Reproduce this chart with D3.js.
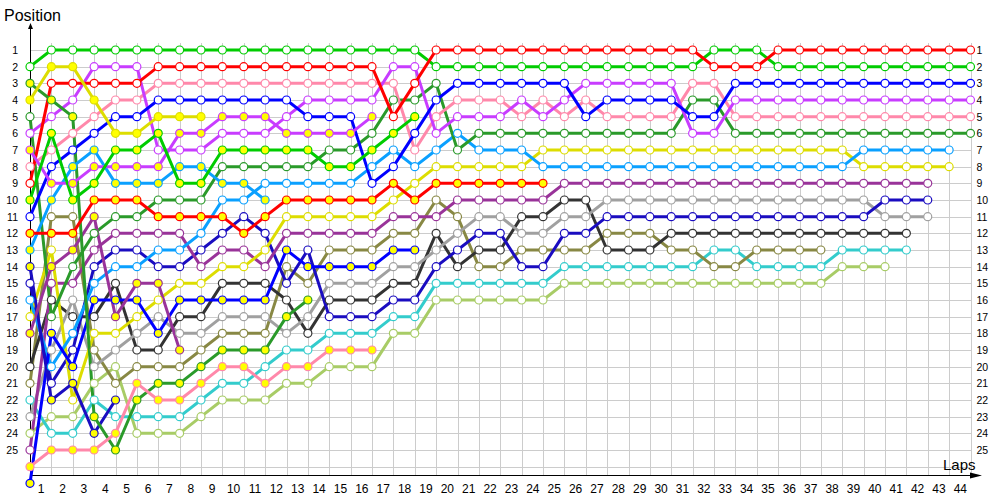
<!DOCTYPE html>
<html><head><meta charset="utf-8">
<script src="https://cdn.jsdelivr.net/npm/d3@7"></script>
<style>body{margin:0;background:#fff}svg{display:block}</style>
</head><body>
<svg id="chart" width="1000" height="500"></svg>
<script>
// ---------- data (index = lap, value = position) ----------
const lapLabels = [1,2,3,4,5,6,7,8,9,10,11,12,13,14,15,16,17,18,19,20,21,22,23,24,25,26,27,28,29,30,31,32,33,34,35,36,37,38,39,40,41,42,43,44];
const positionLabels = [1,2,3,4,5,6,7,8,9,10,11,12,13,14,15,16,17,18,19,20,21,22,23,24,25];
const gridRows = [1,2,3,4,5,6,7,8,9,10,11,12,13,14,15,16,17,18,19,20,21,22,23,24,25,26];

const greenA   = [2,1,1,1,1,1,1,1,1,1,1,1,1,1,1,1,1,1,1,2,2,2,2,2,2,2,2,2,2,2,2,2,1,1,1,2,2,2,2,2,2,2,2,2,2];
const redA     = [9,3,3,3,3,3,2,2,2,2,2,2,2,2,2,2,2,5,3,1,1,1,1,1,1,1,1,1,1,1,1,1,2,2,2,1,1,1,1,1,1,1,1,1,1];
const blueA    = [11,8,7,6,5,5,4,4,4,4,4,4,4,5,5,5,9,8,6,4,3,3,3,3,3,3,5,4,4,4,4,5,5,3,3,3,3,3,3,3,3,3,3,3,3];
const violetA  = [6,5,4,2,2,2,7,7,7,6,6,6,5,4,4,4,4,2,2,6,5,5,5,4,5,4,3,3,3,3,3,6,6,4,4,4,4,4,4,4,4,4,4,4,4];
const pinkA    = [8,7,6,5,4,4,3,3,3,3,3,3,3,3,3,3,3,3,7,5,4,4,4,5,4,5,4,5,5,5,5,3,3,5,5,5,5,5,5,5,5,5,5,5,5];
const forestA  = [5,17,14,12,11,11,10,10,10,8,8,8,8,8,7,7,6,4,4,3,7,6,6,6,6,6,6,6,6,6,6,4,4,6,6,6,6,6,6,6,6,6,6,6,6];
const skyA     = [16,20,18,15,14,14,13,13,12,10,10,9,9,9,9,9,8,7,8,7,6,7,7,7,8,8,8,8,8,8,8,8,8,8,8,8,8,8,8,7,7,7,7,7];
const yellowA  = [17,13,22,18,18,17,16,15,15,14,14,13,11,11,11,11,11,10,9,8,8,8,8,8,7,7,7,7,7,7,7,7,7,7,7,7,7,7,7,8,8,8,8,8];
const purpleA  = [25,15,15,13,12,12,12,12,14,13,13,14,12,12,12,12,12,11,11,11,10,10,10,10,10,9,9,9,9,9,9,9,9,9,9,9,9,9,9,9,9,9,9];
const navyA    = [15,21,19,14,13,13,14,14,13,12,11,12,15,13,17,17,17,16,16,14,13,12,12,14,14,12,12,11,11,11,11,11,11,11,11,11,11,11,11,11,10,10,10];
const grayA    = [23,19,16,20,19,18,17,18,18,17,17,17,18,17,15,15,15,14,14,13,12,11,11,12,12,11,11,10,10,10,10,10,10,10,10,10,10,10,10,10,11,11,11];
const blackA   = [20,16,17,17,15,19,19,17,17,15,15,15,16,18,16,16,16,15,15,12,14,13,13,11,11,10,10,13,13,13,12,12,12,12,12,12,12,12,12,12,12,12];
const tealA    = [22,24,24,22,23,23,23,23,22,21,21,20,19,19,18,18,18,17,17,15,15,15,15,15,15,14,14,14,14,14,14,14,13,13,14,14,14,14,13,13,13,13];
const limeA    = [24,23,23,21,20,24,24,24,23,22,22,22,21,21,20,20,20,18,18,16,16,16,16,16,16,15,15,15,15,15,15,15,15,15,15,15,15,15,14,14,14];
const oliveA   = [21,11,11,19,21,20,20,20,19,18,18,18,14,15,13,13,13,12,12,10,11,14,14,13,13,13,13,12,12,12,13,13,14,14,13,13,13,13];
// retired cars
const redB     = [12,12,12,10,10,10,11,11,11,11,12,11,10,10,10,10,10,9,10,9,9,9,9,9,9];
const greenB   = [10,6,10,9,7,7,6,9,9,7,7,7,7,7,8,8,7,6,5];
const violetB  = [7,9,9,8,8,8,8,6,6,5,5,5,6,6,6,6,5];
const yellowB  = [4,2,2,4,6,6,5,5,5];
const skyB     = [13,10,8,7,9,9,9,8,8,9,9,10];
const pinkB    = [26,25,25,25,24,21,22,22,21,20,20,21,20,20,19,19,19];
const forestB  = [3,4,5,23,25,22,21,21,20,19,19,19,17,16];
const purpleB  = [18,14,13,11,17,15,15,19];
const navyB    = [14,22,21,24,22];
const blueB    = [27,18,20,16,16,16,18,16,16,16,16,16,13,14,14,14,14,13,13];

// ---------- styles ----------
const WHITE = '#ffffff', YEL = '#ffff00';
const series = [
  {data: limeA,   color:'#a8cc66', fill:WHITE},
  {data: tealA,   color:'#33cccc', fill:WHITE},
  {data: oliveA,  color:'#888844', fill:WHITE},
  {data: blackA,  color:'#333333', fill:WHITE},
  {data: grayA,   color:'#a0a0a0', fill:WHITE},
  {data: navyA,   color:'#1a0cc0', fill:WHITE},
  {data: purpleA, color:'#993399', fill:WHITE},
  {data: yellowA, color:'#dddd00', fill:WHITE},
  {data: skyA,    color:'#0aa0ff', fill:WHITE},
  {data: forestA, color:'#2a9a2a', fill:WHITE},
  {data: pinkA,   color:'#ff88aa', fill:WHITE},
  {data: violetA, color:'#c83cff', fill:WHITE},
  {data: blueA,   color:'#0000ff', fill:WHITE},
  {data: greenA,  color:'#00cc00', fill:WHITE},
  {data: redA,    color:'#ff0000', fill:WHITE},
  {data: blueB,   color:'#0000ff', fill:YEL},
  {data: navyB,   color:'#1a0cc0', fill:YEL},
  {data: purpleB, color:'#993399', fill:YEL},
  {data: forestB, color:'#2a9a2a', fill:YEL},
  {data: pinkB,   color:'#ff88aa', fill:YEL},
  {data: skyB,    color:'#0aa0ff', fill:YEL},
  {data: yellowB, color:'#dddd00', fill:YEL},
  {data: violetB, color:'#c83cff', fill:YEL},
  {data: greenB,  color:'#00cc00', fill:YEL},
  {data: redB,    color:'#ff0000', fill:YEL}
];

const svg = d3.select('#chart');
const X0 = 30, X1 = 970.5, AXY = 475;
const x = d3.scaleLinear().domain([0, 44]).range([X0, X1]);
const y = d3.scaleLinear().domain([1, 25]).range([50, 450]);
const xl = d3.scaleLinear().domain([0.5, 44.5]).range([X0, X1]);

// grid
const grid = svg.append('g').attr('stroke', '#cccccc').attr('stroke-width', 1).attr('shape-rendering','crispEdges');
grid.selectAll('line.h').data(gridRows).join('line')
  .attr('x1', X0).attr('x2', X1).attr('y1', d => Math.round(y(d))+0.5).attr('y2', d => Math.round(y(d))+0.5);
grid.selectAll('line.v').data(lapLabels).join('line')
  .attr('y1', 43).attr('y2', AXY).attr('x1', d => Math.round(x(d))+0.5).attr('x2', d => Math.round(x(d))+0.5);

// axes
const font = '"Liberation Sans", Arial, sans-serif';
const left = svg.append('g').attr('transform', `translate(${X0},0)`)
  .call(d3.axisLeft(y).tickValues(positionLabels).tickSize(0).tickPadding(12));
const right = svg.append('g').attr('transform', `translate(${X1},0)`)
  .call(d3.axisRight(y).tickValues(positionLabels).tickSize(0).tickPadding(6));
const bottom = svg.append('g').attr('transform', `translate(0,${AXY})`)
  .call(d3.axisBottom(xl).tickValues(lapLabels).tickSize(0).tickPadding(9));
[left, right, bottom].forEach(g => {
  g.select('.domain').remove();
  g.selectAll('text').attr('font-family', font).attr('font-size', 11).attr('fill', '#000');
});
left.selectAll('text').attr('font-size', 10.5);
right.selectAll('text').attr('font-size', 10.5);
bottom.selectAll('text').attr('font-size', 12);

// axis lines with arrows
svg.append('line').attr('x1', X0+0.5).attr('x2', X0+0.5).attr('y1', AXY).attr('y2', 26).attr('stroke', '#000').attr('stroke-width', 1);
svg.append('path').attr('d', `M${X0+0.5},23 L${X0-2},29 L${X0+3},29 Z`).attr('fill', '#000');
svg.append('line').attr('x1', X0).attr('x2', 978).attr('y1', AXY+0.5).attr('y2', AXY+0.5).attr('stroke', '#000').attr('stroke-width', 1);
svg.append('path').attr('d', `M982,${AXY+0.5} L970,${AXY-2.5} L970,${AXY+3.5} Z`).attr('fill', '#000');

svg.append('text').attr('x', 4).attr('y', 21).text('Position')
  .attr('font-family', font).attr('font-size', 16).attr('fill', '#000');
svg.append('text').attr('x', 943).attr('y', 470).text('Laps')
  .attr('font-family', font).attr('font-size', 15).attr('fill', '#000');

// lines
const line = d3.line().x((d, i) => x(i)).y(d => y(d));
const lines = svg.append('g');
series.forEach(s => {
  lines.append('path').attr('d', line(s.data)).attr('fill', 'none')
    .attr('stroke', s.color).attr('stroke-width', 3).attr('stroke-linejoin', 'round');
});
const marks = svg.append('g');
series.forEach(s => {
  marks.append('g').selectAll('circle').data(s.data).join('circle')
    .attr('cx', (d, i) => x(i)).attr('cy', d => y(d)).attr('r', 4)
    .attr('fill', s.fill).attr('stroke', s.color).attr('stroke-width', 1.2);
});
</script>
</body></html>
